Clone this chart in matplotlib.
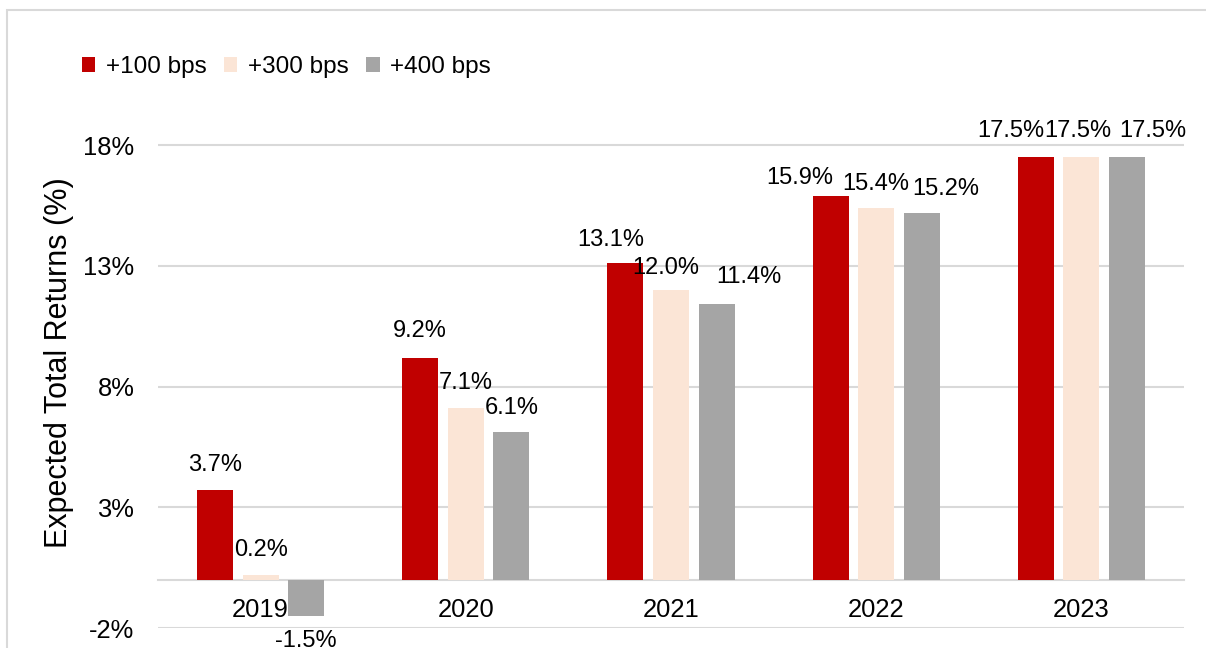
import matplotlib
matplotlib.use("Agg")
import matplotlib.pyplot as plt
from matplotlib.patches import Patch, Rectangle
import numpy as np

plt.rcParams['font.family'] = ['Liberation Sans', 'DejaVu Sans']

categories = ["2019", "2020", "2021", "2022", "2023"]
series_names = ["+100 bps", "+300 bps", "+400 bps"]
values_100 = [3.7, 9.2, 13.1, 15.9, 17.5]
values_300 = [0.2, 7.1, 12.0, 15.4, 17.5]
values_400 = [-1.5, 6.1, 11.4, 15.2, 17.5]
y_ticks = [-2, 3, 8, 13, 18]
y_label = "Expected Total Returns (%)"

colors = ["#C00000", "#FBE5D6", "#A5A5A5"]
# label offsets in pixels (dx, dy) per series per category (layout only)
label_dx = [[0, 0, -15, -31, -25],
            [0, 0, -5, 0, -4],
            [0, 0, 32, 24, 26]]
label_dy = [[25, 27, 23, 18, 26],
            [25, 25, 22, 24, 26],
            [-25, 24, 27, 24, 26]]

fig = plt.figure(figsize=(12.06, 6.48), dpi=100)
fig.patches.append(Rectangle((7 / 1206, -0.1), 1.2, (648 - 10) / 648 + 0.1,
                             transform=fig.transFigure, fill=False,
                             edgecolor="#d9d9d9", linewidth=1.5))
ax = fig.add_axes([158 / 1206, 20 / 648, (1184 - 158) / 1206, 0.8199])

x = np.arange(len(categories))
width = 0.175
offs = [-0.222, 0.0, 0.222]
all_vals = [values_100, values_300, values_400]
for i, (vals, c, name) in enumerate(zip(all_vals, colors, series_names)):
    bars = ax.bar(x + offs[i], vals, width, color=c, label=name, zorder=3)
    for j, (b, v) in enumerate(zip(bars, vals)):
        ax.annotate(f"{v:.1f}%", (b.get_x() + b.get_width() / 2, v),
                    xytext=(label_dx[i][j], label_dy[i][j]),
                    textcoords="offset pixels", ha="center", va="center",
                    fontsize=17, color="#000000", zorder=4)

ax.set_xlim(-0.5, len(categories) - 0.5)
ax.set_ylim(-2, 20)
ax.set_yticks(y_ticks)
ax.set_yticklabels([f"{t}%" for t in y_ticks])
ax.set_xticks(x)
ax.set_xticklabels(categories)
ax.tick_params(axis="both", length=0, labelsize=18.4, colors="#000000")
ax.tick_params(axis="y", pad=17)
ax.tick_params(axis="x", pad=13)
ax.grid(axis="y", color="#d9d9d9", linewidth=1.5, zorder=0)
for s in ["top", "right", "left"]:
    ax.spines[s].set_visible(False)
ax.spines["bottom"].set_position(("data", 0))
ax.spines["bottom"].set_color("#d9d9d9")
ax.spines["bottom"].set_linewidth(1.5)
ax.spines["bottom"].set_zorder(2)
ax.set_ylabel(y_label, fontsize=22, labelpad=7)

handles = [Patch(facecolor=c, label=n) for c, n in zip(colors, series_names)]
fig.legend(handles=handles, loc="center left",
           bbox_to_anchor=(82 / 1206, 1 - 67 / 648), ncol=3, frameon=False,
           fontsize=17.5, handlelength=0.55, handleheight=0.55,
           handletextpad=0.45, columnspacing=0.7, borderpad=0,
           borderaxespad=0)

fig.savefig("out.png", dpi=100)
